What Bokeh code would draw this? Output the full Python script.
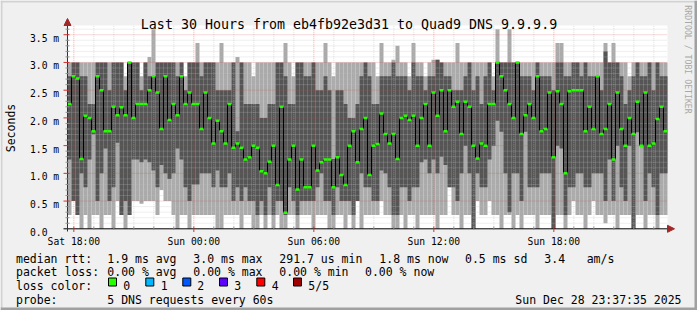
import numpy as np
from bokeh.plotting import figure
from bokeh.models import Range1d
from bokeh.core.properties import value
from bokeh.embed import file_html
from bokeh.resources import INLINE

# ---------------- data ----------------
title = "Last 30 Hours from eb4fb92e3d31 to Quad9 DNS 9.9.9.9"
x_tick_hours = [0, 6, 12, 18, 24]            # hours after Sat 18:00
x_tick_labels = ["Sat 18:00", "Sun 00:00", "Sun 06:00", "Sun 12:00", "Sun 18:00"]
y_ticks = [0.0, 0.5, 1.0, 1.5, 2.0, 2.5, 3.0, 3.5]   # milliseconds
y_tick_labels = ["0.0", "0.5 m", "1.0 m", "1.5 m", "2.0 m", "2.5 m", "3.0 m", "3.5 m"]
y_label = "Seconds"

t_start = -19 / 60.0      # graph start (Sat 17:41) in hours after Sat 18:00
span_hours = 30.0
step = 0.2                # 12-minute consolidation steps

median = [
    2.25, 2.75, 2.71, 1.26, 2.04, 2.0, 1.76, 2.75, 2.5, 1.76,
    1.76, 2.2, 2.05, 2.19, 2.05, 3.0, 2.0, 2.25, 2.25, 2.25,
    2.5, 2.75, 2.46, 1.8, 2.75, 1.96, 2.25, 2.05, 2.75, 2.25,
    2.46, 2.25, 2.25, 1.8, 2.46, 2.0, 1.54, 1.95, 1.76, 1.54,
    2.25, 1.46, 1.54, 1.46, 1.25, 1.29, 1.5, 1.46, 1.04, 1.0,
    1.21, 1.5, 0.79, 2.2, 0.29, 1.25, 1.5, 0.71, 1.25, 0.75,
    0.75, 1.5, 1.05, 1.2, 1.25, 1.25, 0.75, 1.29, 0.97, 0.79,
    1.5, 1.76, 1.2, 1.8, 2.0, 0.97, 1.5, 1.53, 2.08, 1.71,
    1.54, 1.71, 1.26, 2.0, 2.04, 1.96, 2.04, 1.5, 2.0, 2.25,
    1.5, 2.46, 2.04, 2.5, 1.76, 2.5, 2.2, 2.29, 1.71, 2.29,
    2.2, 1.5, 1.27, 1.54, 1.5, 2.25, 2.25, 3.0, 2.75, 2.5,
    2.25, 2.0, 3.0, 1.71, 2.05, 2.25, 2.0, 2.75, 1.76, 1.8,
    2.46, 1.29, 2.48, 2.25, 1.0, 2.48, 2.5, 2.5, 2.5, 1.76,
    2.2, 1.8, 2.75, 1.71, 1.8, 2.25, 1.25, 2.46, 1.8, 1.5,
    2.0, 1.71, 2.29, 1.5, 2.46, 1.5, 1.54, 1.98, 2.2, 1.76,
]
ping_max = [
    3.0, 3.0, 3.0, 3.0, 3.0, 3.0, 3.0, 3.0, 3.0, 3.0,
    3.0, 3.0, 3.0, 3.0, 2.75, 3.0, 3.0, 3.0, 2.75, 3.0,
    3.1, 3.6, 3.0, 3.0, 3.0, 3.0, 3.0, 3.0, 3.0, 2.75,
    3.0, 3.0, 3.35, 3.0, 3.0, 3.0, 3.0, 3.0, 3.35, 3.0,
    3.0, 3.0, 3.1, 3.0, 3.0, 3.0, 2.75, 3.0, 3.0, 3.0,
    3.0, 3.0, 3.0, 3.0, 3.35, 3.0, 2.75, 3.0, 3.0, 3.0,
    3.0, 3.0, 3.0, 3.0, 3.35, 3.0, 2.75, 3.0, 3.0, 3.0,
    3.0, 3.0, 3.0, 3.0, 3.0, 3.0, 3.0, 2.75, 3.35, 3.0,
    3.0, 3.05, 3.3, 3.0, 3.0, 2.75, 3.35, 3.0, 3.0, 2.75,
    3.0, 3.05, 3.05, 3.0, 3.0, 3.0, 3.0, 3.35, 3.0, 3.0,
    3.0, 3.0, 3.0, 3.0, 3.0, 3.0, 2.75, 3.6, 3.0, 3.0,
    3.6, 3.0, 3.0, 3.0, 3.0, 3.0, 3.0, 3.0, 3.0, 3.0,
    3.0, 3.0, 3.35, 3.35, 3.0, 3.0, 3.0, 3.0, 3.0, 3.0,
    3.0, 3.0, 3.0, 3.0, 3.35, 3.0, 3.35, 3.0, 3.0, 3.0,
    2.75, 3.0, 3.0, 3.0, 3.0, 3.0, 3.0, 3.0, 3.0, 3.0,
]
ping_hi = [
    2.75, 3.0, 3.0, 2.75, 2.75, 2.25, 2.25, 3.0, 3.0, 3.0,
    2.5, 3.0, 3.0, 3.0, 2.5, 3.0, 3.0, 3.0, 2.5, 3.0,
    2.75, 2.75, 3.0, 3.0, 3.0, 3.0, 3.0, 2.75, 3.0, 2.5,
    3.0, 3.0, 3.0, 2.75, 3.0, 3.0, 3.0, 2.5, 2.5, 2.5,
    2.5, 3.0, 1.76, 3.0, 2.25, 2.25, 2.25, 2.25, 2.0, 2.0,
    2.25, 2.25, 3.0, 3.0, 2.75, 2.25, 2.25, 3.0, 3.0, 2.75,
    2.75, 3.0, 2.5, 2.5, 2.75, 2.5, 1.26, 2.5, 2.5, 2.25,
    2.0, 2.0, 2.25, 2.75, 3.0, 2.75, 2.25, 2.25, 2.75, 2.75,
    2.75, 3.0, 2.75, 2.75, 2.75, 2.5, 3.0, 2.75, 2.75, 2.5,
    2.75, 2.75, 3.05, 3.0, 2.75, 2.75, 2.5, 2.5, 2.5, 2.75,
    3.0, 2.5, 2.75, 2.25, 2.75, 3.0, 2.5, 3.0, 3.0, 3.0,
    3.0, 3.0, 3.0, 2.75, 2.75, 2.75, 2.5, 3.0, 2.75, 2.75,
    2.75, 2.5, 3.0, 3.0, 2.75, 2.75, 3.0, 3.0, 2.75, 3.0,
    2.75, 2.75, 2.75, 2.5, 3.2, 3.0, 3.0, 3.0, 2.75, 2.25,
    2.5, 2.75, 3.0, 2.75, 2.75, 3.0, 2.5, 3.0, 2.75, 2.75,
]
ping_lo = [
    1.25, 0.5, 0.25, 1.0, 0.75, 1.25, 1.7, 0.5, 1.0, 1.45,
    0.5, 0.75, 1.55, 0.25, 0.5, 0.25, 1.25, 1.25, 1.2, 1.25,
    1.2, 1.05, 0.75, 1.15, 1.0, 0.9, 1.0, 1.45, 1.25, 0.75,
    0.5, 0.8, 0.8, 1.0, 1.0, 1.0, 0.75, 1.05, 0.75, 0.75,
    1.0, 0.5, 0.75, 0.5, 0.75, 0.5, 0.5, 0.25, 0.5, 0.25,
    0.75, 0.25, 0.5, 0.5, 0.25, 0.75, 0.5, 0.25, 0.5, 0.5,
    0.5, 0.5, 0.75, 1.0, 0.5, 0.5, 0.25, 0.75, 0.5, 0.5,
    0.5, 0.25, 0.5, 1.0, 0.75, 0.75, 0.5, 0.5, 1.05, 1.0,
    0.75, 0.25, 0.25, 0.75, 0.75, 0.5, 0.75, 0.75, 1.2, 1.25,
    1.0, 1.25, 1.0, 1.3, 1.15, 0.75, 0.75, 0.5, 1.0, 1.5,
    1.0, 0.0, 1.0, 0.75, 0.75, 1.25, 1.5, 1.95, 1.75, 1.0,
    0.3, 1.0, 1.0, 0.5, 1.75, 0.75, 0.75, 0.75, 1.0, 1.0,
    1.0, 0.0, 1.5, 1.45, 0.25, 0.75, 0.75, 1.0, 1.0, 0.75,
    0.75, 1.0, 1.0, 1.0, 0.5, 1.25, 0.5, 1.5, 0.75, 0.5,
    1.5, 0.0, 1.74, 1.5, 0.5, 1.0, 0.75, 0.25, 1.0, 1.0,
]
ping_min = [
    0.25, 0.5, 0.25, 0.0, 0.25, 0.0, 0.25, 0.25, 0.0, 0.25,
    0.25, 0.0, 0.5, 0.25, 0.0, 0.25, 0.5, 0.5, 0.45, 0.5,
    0.5, 0.5, 0.25, 0.7, 0.5, 0.5, 0.25, 0.0, 0.25, 0.25,
    0.0, 0.25, 0.25, 0.25, 0.25, 0.25, 0.25, 0.0, 0.0, 0.25,
    0.25, 0.25, 0.25, 0.0, 0.25, 0.25, 0.0, 0.0, 0.25, 0.0,
    0.25, 0.0, 0.25, 0.0, 0.0, 0.25, 0.25, 0.0, 0.25, 0.25,
    0.25, 0.0, 0.25, 0.25, 0.25, 0.0, 0.0, 0.25, 0.25, 0.0,
    0.25, 0.0, 0.5, 0.0, 0.25, 0.25, 0.25, 0.25, 0.5, 0.25,
    0.25, 0.0, 0.0, 0.25, 0.0, 0.25, 0.25, 0.0, 0.25, 0.25,
    0.25, 0.25, 0.0, 0.25, 0.25, 0.75, 0.25, 0.25, 0.0, 0.25,
    0.25, 0.0, 0.5, 0.25, 0.25, 0.5, 0.25, 0.25, 0.0, 0.25,
    0.25, 0.0, 0.25, 0.0, 0.25, 0.25, 0.25, 0.0, 0.25, 0.25,
    0.25, 0.0, 0.25, 0.25, 0.0, 0.25, 0.5, 0.25, 0.25, 0.0,
    0.25, 0.5, 0.25, 0.25, 0.1, 0.25, 0.25, 0.0, 0.25, 0.25,
    0.25, 0.0, 0.25, 0.25, 0.0, 0.25, 0.25, 0.0, 0.25, 0.25,
]

rtt_label = "median rtt:"
rtt_stats = ["1.9 ms avg", "3.0 ms max", "291.7 us min", "1.8 ms now", "0.5 ms sd", "3.4", "am/s"]
loss_label = "packet loss:"
loss_stats = ["0.00 % avg", "0.00 % max", "0.00 % min", "0.00 % now"]
color_label = "loss color:"
loss_names = ["0", "1", "2", "3", "4", "5/5"]
loss_colors = ["#26ff00", "#00b8ff", "#0059ff", "#5e00ff", "#ff0000", "#a00000"]
probe_label = "probe:"
probe_text = "5 DNS requests every 60s"
stamp = "Sun Dec 28 23:37:35 2025"
credit = "RRDTOOL / TOBI OETIKER"

# ---------------- layout ----------------
W, H = 697, 310
X0PX, XS = 73.33, 20.0     # pixel of Sat 18:00, pixels per hour
Y0PX, YS = 228.3, 55.45    # pixel of 0 ms, pixels per ms

def hx(px):
    return (px - X0PX) / XS

def vy(py):
    return (Y0PX - py) / YS

BG = "#f0f0f0"
LIGHT = "#aaaaaa"
DARK = "#555555"
MONO = value("DejaVu Sans Mono")

p = figure(width=W, height=H, x_range=Range1d(hx(0), hx(W)), y_range=Range1d(vy(H), vy(0)),
           output_backend="svg", toolbar_location=None,
           x_axis_location=None, y_axis_location=None, min_border=0,
           background_fill_color=BG, border_fill_color=BG, outline_line_color=None)
p.grid.visible = False

t_end = t_start + span_hours
y_top = vy(25)

# 3D border
p.quad(left=[hx(0)], right=[hx(2)], bottom=[vy(H)], top=[vy(0)], fill_color="#d2d2d2", line_color=None)
p.quad(left=[hx(0)], right=[hx(W)], bottom=[vy(2)], top=[vy(0)], fill_color="#d2d2d2", line_color=None)
p.quad(left=[hx(W - 3)], right=[hx(W)], bottom=[vy(H)], top=[vy(0)], fill_color="#a0a0a0", line_color=None)
p.quad(left=[hx(0)], right=[hx(W)], bottom=[vy(H)], top=[vy(H - 3)], fill_color="#a0a0a0", line_color=None)

# canvas
p.quad(left=[t_start], right=[t_end], bottom=[0], top=[y_top], fill_color="white", line_color=None)

n = len(median)
lefts = t_start + step * np.arange(n)
rights = lefts + step

p.quad(left=lefts, right=rights, bottom=ping_min, top=ping_max, fill_color=LIGHT, line_color=None)
p.quad(left=lefts, right=rights, bottom=ping_lo, top=ping_hi, fill_color=DARK, line_color=None)

# grid (drawn over the smoke like rrdtool)
minor_y = [k / 10 for k in range(1, int(y_top * 10) + 1) if k % 5]
p.segment(x0=[t_start] * len(minor_y), x1=[t_end] * len(minor_y), y0=minor_y, y1=minor_y,
          line_color="#c0c0c0", line_alpha=0.5, line_dash="1 1", line_width=1)
minor_x = [h for h in range(int(np.ceil(t_start)), int(t_end) + 1) if h % 6 and t_start < h < t_end]
p.segment(x0=minor_x, x1=minor_x, y0=[0] * len(minor_x), y1=[y_top] * len(minor_x),
          line_color="#c0c0c0", line_alpha=0.5, line_dash="1 1", line_width=1)
major_y = y_ticks[1:]
p.segment(x0=[t_start] * len(major_y), x1=[t_end] * len(major_y), y0=major_y, y1=major_y,
          line_color="#e04040", line_alpha=0.4, line_dash="1 1", line_width=1)
p.segment(x0=x_tick_hours, x1=x_tick_hours, y0=[0] * len(x_tick_hours), y1=[y_top] * len(x_tick_hours),
          line_color="#e04040", line_alpha=0.4, line_dash="1 1", line_width=1)

# median line
med = np.array(median)
p.segment(x0=rights[:-1], x1=rights[:-1], y0=med[:-1], y1=med[1:], line_color="black", line_width=1)
p.segment(x0=lefts, x1=rights, y0=med, y1=med, line_color=loss_colors[0], line_width=2.5, line_cap="butt")

# axes
p.segment(x0=[hx(63)], x1=[hx(668)], y0=[0], y1=[0], line_color="#000000", line_width=1)
p.segment(x0=[t_start], x1=[t_start], y0=[vy(231)], y1=[vy(21)], line_color="#303030", line_width=1)
# ticks
p.segment(x0=[hx(63)] * len(major_y), x1=[hx(69)] * len(major_y), y0=major_y, y1=major_y,
          line_color="#d03030", line_width=1)
p.segment(x0=[hx(65)] * len(minor_y), x1=[hx(69)] * len(minor_y), y0=minor_y, y1=minor_y,
          line_color="#909090", line_width=1)
p.segment(x0=x_tick_hours, x1=x_tick_hours, y0=[vy(226)] * 5, y1=[vy(231.5)] * 5,
          line_color="#d03030", line_width=1)
p.segment(x0=minor_x, x1=minor_x, y0=[vy(226)] * len(minor_x), y1=[vy(229.5)] * len(minor_x),
          line_color="#909090", line_width=1)
# arrows
ARROW = "#a02828"
p.patch(x=[hx(63.5), hx(70.5), hx(67)], y=[vy(25), vy(25), vy(18)], fill_color=ARROW, line_color=ARROW)
p.patch(x=[hx(667), hx(667), hx(674)], y=[vy(224.8), vy(231.8), vy(228.3)], fill_color=ARROW, line_color=ARROW)

# tick labels
p.text(x=[hx(29.5)] * len(y_ticks), y=[t - 3.5 / YS for t in y_ticks], text=y_tick_labels,
       text_font=MONO, text_font_size="9.7px", text_align="left", text_baseline="alphabetic",
       text_color="black")
p.text(x=x_tick_hours, y=[vy(241.3)] * 5, text=x_tick_labels,
       text_font=MONO, text_font_size="9.7px", text_align="center", text_baseline="alphabetic",
       text_color="black")
p.text(x=[hx(10.5)], y=[vy(127.5)], text=[y_label], angle=np.pi / 2,
       text_font=MONO, text_font_size="11.5px", text_align="center", text_baseline="middle",
       text_color="black")
p.text(x=[hx(348.5)], y=[vy(24)], text=[title], text_font=MONO, text_font_size="13.3px",
       text_align="center", text_baseline="alphabetic", text_color="black")
p.text(x=[hx(687.5)], y=[vy(59)], text=[credit], angle=-np.pi / 2, text_font=MONO,
       text_font_size="8.2px", text_align="center", text_baseline="middle", text_color="#a8a8a8")

# legend
FS = "11.5px"
def line_text(xs_px, base_px, texts, align="left"):
    p.text(x=[hx(v) for v in xs_px], y=[vy(base_px)] * len(texts), text=texts, text_font=MONO,
           text_font_size=FS, text_align=align, text_baseline="alphabetic", text_color="black")

line_text([15.5], 258.3, [rtt_label])
line_text([106.8, 192.8, 278.8, 378.8, 464.5, 543.8, 586.2], 258.3, rtt_stats)
line_text([15.5], 271.8, [loss_label])
line_text([106.8, 192.8, 278.8, 364.5], 271.8, loss_stats)
line_text([15.5], 285.4, [color_label])
box_x = [108.0, 145.3, 182.3, 219.0, 256.3, 293.0]
p.quad(left=[hx(b) for b in box_x], right=[hx(b + 8) for b in box_x],
       bottom=[vy(285.5)] * 6, top=[vy(277.5)] * 6, fill_color=loss_colors, line_color="black", line_width=1)
line_text([122.8, 160.2, 196.8, 233.8, 271.2, 307.8], 285.4, loss_names)
line_text([15.5], 299, [probe_label])
line_text([106.8], 299, [probe_text])
line_text([681], 299, [stamp], align="right")

open("out.html", "w").write(file_html(p, INLINE))
